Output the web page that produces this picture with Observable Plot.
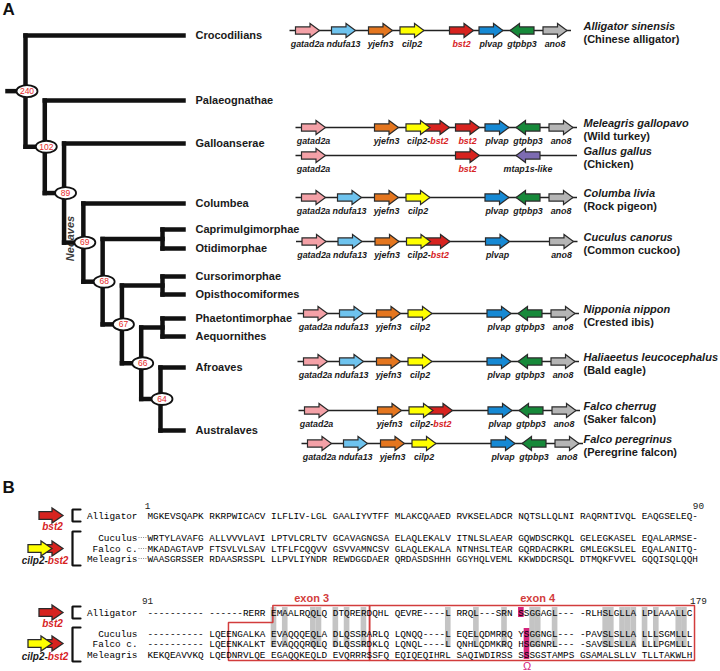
<!DOCTYPE html>
<html><head><meta charset="utf-8">
<script src="https://cdn.jsdelivr.net/npm/d3@7"></script>
<script src="https://cdn.jsdelivr.net/npm/@observablehq/plot@0.6"></script>
<style>body{margin:0;background:#fff}#chart svg{display:block}</style>
</head><body><div id="chart"></div>
<script>
// ================= DATA =================
const clades = ["Crocodilians","Palaeognathae","Galloanserae","Columbea","Caprimulgimorphae","Otidimorphae","Cursorimorphae","Opisthocomiformes","Phaetontimorphae","Aequornithes","Afroaves","Australaves"];
const treeNodes = [
  {id:"n240", age:240, children:["Crocodilians","n102"]},
  {id:"n102", age:102, children:["Palaeognathae","n89"]},
  {id:"n89",  age:89,  children:["Galloanserae","n69"]},
  {id:"n69",  age:69,  children:["Columbea","n68"]},
  {id:"n68",  age:68,  children:["j1","n67"]},
  {id:"j1",   age:null,children:["Caprimulgimorphae","Otidimorphae"]},
  {id:"n67",  age:67,  children:["j2","n66"]},
  {id:"j2",   age:null,children:["Cursorimorphae","Opisthocomiformes"]},
  {id:"n66",  age:66,  children:["j3","n64"]},
  {id:"j3",   age:null,children:["Phaetontimorphae","Aequornithes"]},
  {id:"n64",  age:64,  children:["Afroaves","Australaves"]}
];
const neoavesLabel = "Neoaves";

const genes      = ["gatad2a","ndufa13","yjefn3","cilp2","bst2","plvap","gtpbp3","ano8","mtap1s-like"];
const geneColors = ["#f4a1a7","#6ec3ee","#e4761f","#ffff00","#d7231f","#1689d4","#17893a","#b5b5b5","#7d6bb2"];
const geneStrand = [1,1,1,1,1,1,-1,1,-1];

const species     = ["Alligator sinensis","Meleagris gallopavo","Gallus gallus","Columba livia","Cuculus canorus","Nipponia nippon","Haliaeetus leucocephalus","Falco cherrug","Falco peregrinus"];
const commonNames = ["(Chinese alligator)","(Wild turkey)","(Chicken)","(Rock pigeon)","(Common cuckoo)","(Crested ibis)","(Bald eagle)","(Saker falcon)","(Peregrine falcon)"];
const loci = [
  ["gatad2a","ndufa13","yjefn3","cilp2","bst2","plvap","gtpbp3","ano8"],
  ["gatad2a","yjefn3","cilp2-bst2","bst2","plvap","gtpbp3","ano8"],
  ["gatad2a","bst2","mtap1s-like"],
  ["gatad2a","ndufa13","yjefn3","cilp2","plvap","gtpbp3","ano8"],
  ["gatad2a","ndufa13","yjefn3","cilp2-bst2","plvap","ano8"],
  ["gatad2a","ndufa13","yjefn3","cilp2","plvap","gtpbp3","ano8"],
  ["gatad2a","ndufa13","yjefn3","cilp2","plvap","gtpbp3","ano8"],
  ["gatad2a","yjefn3","cilp2-bst2","plvap","gtpbp3","ano8"],
  ["gatad2a","ndufa13","yjefn3","cilp2","plvap","gtpbp3","ano8"]
];

const alnNames = ["Alligator","Cuculus","Falco c.","Meleagris"];
const alnBlock1 = [
  "MGKEVSQAPK RKRPWICACV ILFLIV-LGL GAALIYVTFF MLAKCQAAED RVKSELADCR NQTSLLQLNI RAQRNTIVQL EAQGSELEQ-",
  "WRTYLAVAFG ALLVVVLAVI LPTVLCRLTV GCAVAGNGSA ELAQLEKALV ITNLSLAEAR GQWDSCRKQL GELEGKASEL EQALARMSE-",
  "MKADAGTAVP FTSVLVLSAV LTFLFCQQVV GSVVAMNCSV GLAQLEKALA NTNHSLTEAR GQRDACRKRL GMLEGKSLEL EQALANITQ-",
  "WAASGRSSER RDAASRSSPL LLPVLIYNDR REWDGGDAER QRDASDSHHH GGYHQLVEML KKWDDCRSQL DTMQKFVVEL GQQISQLQQH"
];
const alnBlock2 = [
  "---------- ------RERR EMAALRQQLQ DTQRERDQHL QEVRE----L RRQL---SRN SSGGAGL--- -RLHSLGLLA LPLAAALLC",
  "---------- LQEENGALKA EVAQQQEQLA DLQSSRARLQ LQNQQ----L EQELQDMRRQ YSGGNGL--- -PAVSLSLLA LLLSGMLLL",
  "---------- LQEENKALKT EVAQQQRQLQ DLQSSRDKLQ LQNQL----L QNHLQDMKRQ HSGGNRL--- -SAVSLSLLA LLLPGMLLL",
  "KEKQEAVVKQ LQEDNRVLQE EGAQQKEQLD EVQRRRSSFQ EQIQEQIHRL SAQIWDIRSS SSSGSTAMPS GSAMALSLLV TLLTAKWLH"
];
const blockNumbers = [["1","90"],["91","179"]];
const shadedCols2 = [22,24,29,30,33,35,38,53,58,63,68,69,72,81,82,84,85,86,88,90,94,95]; // conserved (grey) columns, block 2
const omegaCols = [66,67,67,67];   // omega site per sequence (block 2 column)
const exonLabels = ["exon 3","exon 4"];
const omegaSymbol = "\u03A9";

// ================= LAYOUT =================
const W = 720, H = 671;
const SANS = "'Liberation Sans', Arial, Helvetica, sans-serif";
const MONO = "'Liberation Mono', 'Courier New', monospace";
const leafY = {Crocodilians:35, Palaeognathae:100, Galloanserae:143, Columbea:203, Caprimulgimorphae:229, Otidimorphae:248, Cursorimorphae:276, Opisthocomiformes:294, Phaetontimorphae:318, Aequornithes:336, Afroaves:367, Australaves:430};
const depthX = d3.scaleLinear().domain([0,7]).range([25,160]);
const cherryX = 162, tipX = 183, rootX = 7, cladeLabelX = 195;

const rowY = [30,127,155,197,241,313,361,410,443];
const rowShift = [-6,0,0,0,0.5,2,2,3,6];
const slotX = {"gatad2a":313,"ndufa13":349,"yjefn3":386,"cilp2":417.5,"cilp2-bst2":437,"bst2":467,"plvap":496.5,"gtpbp3":527.5,"mtap1s-like":527.5,"ano8":560.5};
const speciesX = 583;
const geneFont = 8.9;

const seqX0 = 147, charW = 5.622, seqFont = 9.37;
const colX = i => seqX0 + i * charW;
const alnRowY = [[515,537,548,558],[612,633,643,654]];
const numY = [505,600];

// ================= BUILD =================
const geneIdx = g => genes.indexOf(g);
const nodeById = new Map(treeNodes.map(d => [d.id, d]));
const pos = new Map();
function layout(id, depth) {
  if (!nodeById.has(id)) { const p = {id, x: tipX, y: leafY[id], leaf: true}; pos.set(id, p); return p; }
  const n = nodeById.get(id);
  const kids = n.children.map(c => layout(c, depth + 1));
  const p = {id, x: n.age == null ? cherryX : depthX(depth), y: (kids[0].y + kids[kids.length-1].y) / 2,
             top: kids[0].y, bottom: kids[kids.length-1].y, age: n.age, kids};
  pos.set(id, p); return p;
}
const root = layout("n240", 0);
const segs = [{x1: rootX, y1: root.y, x2: root.x, y2: root.y}];
for (const p of pos.values()) {
  if (p.leaf) continue;
  segs.push({x1: p.x, y1: p.top, x2: p.x, y2: p.bottom});
  for (const k of p.kids) segs.push({x1: p.x, y1: k.y, x2: k.x, y2: k.y});
}
const agedNodes = [...pos.values()].filter(p => !p.leaf && p.age != null);
const leaves = clades.map(c => pos.get(c));

// synteny
const arrowsUnder = [], arrowsFwd = [], arrowsRev = [], geneLabels = [], fusedLabels = [], lines = [];
species.forEach((s, i) => {
  const y = rowY[i], sh = rowShift[i];
  lines.push({x1: slotX.gatad2a - 18 + sh, x2: slotX.ano8 + 16 + sh, y});
  for (const g of loci[i]) {
    if (g === "cilp2-bst2") {
      arrowsUnder.push({x: slotX["cilp2-bst2"] + sh, y, fill: geneColors[geneIdx("bst2")]});
      arrowsFwd.push({x: slotX.cilp2 + sh, y, fill: geneColors[geneIdx("cilp2")]});
      fusedLabels.push({x: (slotX.cilp2 + slotX["cilp2-bst2"]) / 2 + sh, y: y + 14});
    } else {
      const d = {x: slotX[g] + sh, y, fill: geneColors[geneIdx(g)]};
      (geneStrand[geneIdx(g)] < 0 ? arrowsRev : arrowsFwd).push(d);
      geneLabels.push({x: slotX[g] + sh, y: y + 14, text: g, fill: g === "bst2" ? "#d7231f" : "#1a1a1a"});
    }
  }
});

// measure text for two-colour labels
const cv = document.createElement("canvas").getContext("2d");
function measure(t, font) { cv.font = font; return cv.measureText(t).width; }
function splitLabel(cx, fontPx) {
  const f = `italic bold ${fontPx}px ${SANS}`;
  const w = measure("cilp2-bst2", f), w1 = measure("cilp2-", f);
  return cx - w / 2 + w1;
}
const fusedA = fusedLabels.map(d => ({...d, split: splitLabel(d.x, geneFont)}));

// alignment
const alnRows = [];
[alnBlock1, alnBlock2].forEach((blk, b) => blk.forEach((seq, r) => alnRows.push({seq, name: alnNames[r], y: alnRowY[b][r]})));
const grey = shadedCols2.map(c => ({x1: colX(c), x2: colX(c + 1), y1: alnRowY[1][0] - 5, y2: alnRowY[1][2] + 4}));
const magenta = [
  {x1: colX(omegaCols[0]), x2: colX(omegaCols[0] + 1), y1: alnRowY[1][0] - 5, y2: alnRowY[1][0] + 5},
  {x1: colX(omegaCols[1]), x2: colX(omegaCols[1] + 1), y1: alnRowY[1][1] - 5, y2: alnRowY[1][3] + 5}
];
const exTop = 605, exBot = 660, exStep = 622;
const exonPoly = [
  ...[[22.3,exTop],[39.5,exTop],[39.5,exBot],[14.4,exBot],[14.4,exStep],[22.3,exStep],[22.3,exTop]].map(([c,y]) => ({id:"e3", x: colX(c), y})),
  ...[[39.5,exTop],[97.3,exTop],[97.3,exBot],[39.5,exBot],[39.5,exTop]].map(([c,y]) => ({id:"e4", x: colX(c), y}))
];
const exonLab = [{t: exonLabels[0], x: colX(29.2)}, {t: exonLabels[1], x: colX(69.4)}];
const leaders = [1,2,3].map(r => ({x1: 138, x2: 146.5, y: alnRowY[0][r]}));
const brackets = [];
alnRowY.forEach((ys, b) => {
  brackets.push(...[[80,ys[0]-6],[72,ys[0]-6],[72,ys[0]+6],[80,ys[0]+6]].map(([x,y]) => ({id:`s${b}`, x, y})));
  brackets.push(...[[80,ys[1]-6],[72,ys[1]-6],[72,ys[3]+7],[80,ys[3]+7]].map(([x,y]) => ({id:`b${b}`, x, y})));
});
const bArrowRed = [], bArrowYel = [], bLabRed = [], bLabFused = [];
alnRowY.forEach(ys => {
  bArrowRed.push({x: 50.5, y: ys[0]}, {x: 50.5, y: ys[2]});
  bArrowYel.push({x: 39.5, y: ys[2]});
  bLabRed.push({x: 52, y: ys[0] + 11});
  bLabFused.push({x: 44.5, y: ys[3] + 2, split: splitLabel(44.5, 10)});
});
const numLabs = [];
blockNumbers.forEach(([a, z], b) => { numLabs.push({t: a, x: colX(0), y: numY[b], anchor: "start"}); numLabs.push({t: z, x: colX(98), y: numY[b], anchor: "end"}); });

// symbols
const ellipseSymbol = {draw(ctx) { const rx = 10.5, ry = 6, k = 0.5523;
  ctx.moveTo(rx, 0); ctx.bezierCurveTo(rx, ry*k, rx*k, ry, 0, ry); ctx.bezierCurveTo(-rx*k, ry, -rx, ry*k, -rx, 0);
  ctx.bezierCurveTo(-rx, -ry*k, -rx*k, -ry, 0, -ry); ctx.bezierCurveTo(rx*k, -ry, rx, -ry*k, rx, 0); ctx.closePath(); }};
function arrowSymbol(len, bh, hh, hl, dir) { return {draw(ctx) { const L = len / 2;
  const p = [[-L,-bh],[L-hl,-bh],[L-hl,-hh],[L,0],[L-hl,hh],[L-hl,bh],[-L,bh]].map(([x,y]) => [x*dir, y]);
  ctx.moveTo(p[0][0], p[0][1]); for (const q of p.slice(1)) ctx.lineTo(q[0], q[1]); ctx.closePath(); }}; }
const arrF = arrowSymbol(24, 3.6, 7, 9.5, 1), arrR = arrowSymbol(24, 3.6, 7, 9.5, -1);
const arrB = arrowSymbol(24, 3.9, 7.6, 11, 1);
const arrowStyle = {r: 5, stroke: "#2a2a2a", strokeWidth: 1.2, fill: "fill"};

const redT = "#d7231f";
const svg = Plot.plot({
  width: W, height: H, margin: 0,
  x: {type: "identity", axis: null}, y: {type: "identity", axis: null},
  color: {type: "identity"},
  style: {fontFamily: SANS, background: "#fff"},
  marks: [
    // panel labels
    Plot.text(["A","B"], {x: 2, y: (d, i) => [9, 487][i], text: d => d, textAnchor: "start", fontSize: 17, fontWeight: "bold", fill: "#111"}),
    // Neoaves
    Plot.text([neoavesLabel], {x: 70, y: 238, text: d => d, rotate: -90, fontSize: 11, fontWeight: "bold", fontStyle: "italic", fill: "#3a3a3a"}),
    // tree
    Plot.link(segs, {x1: "x1", y1: "y1", x2: "x2", y2: "y2", stroke: "#111", strokeWidth: 4.5, strokeLinecap: "square"}),
    Plot.dot(agedNodes, {x: d => d.x + 1.5, y: "y", symbol: ellipseSymbol, r: 5, fill: "#fff", stroke: "#111", strokeWidth: 1.8}),
    Plot.text(agedNodes, {x: d => d.x + 1.5, y: "y", text: d => String(d.age), fontSize: 8.5, fill: "#e52a2a"}),
    Plot.text(leaves, {x: cladeLabelX, y: "y", text: "id", textAnchor: "start", fontSize: 11, fontWeight: "bold", fill: "#1a1a1a"}),
    // synteny
    Plot.link(lines, {x1: "x1", x2: "x2", y1: "y", y2: "y", stroke: "#222", strokeWidth: 1.4}),
    Plot.dot(arrowsUnder, {x: "x", y: "y", symbol: arrF, ...arrowStyle}),
    Plot.dot(arrowsFwd, {x: "x", y: "y", symbol: arrF, ...arrowStyle}),
    Plot.dot(arrowsRev, {x: "x", y: "y", symbol: arrR, ...arrowStyle}),
    Plot.text(geneLabels, {x: "x", y: "y", text: "text", fill: "fill", fontSize: geneFont, fontWeight: "bold", fontStyle: "italic"}),
    Plot.text(fusedA, {x: "split", y: "y", text: () => "cilp2-", textAnchor: "end", fill: "#1a1a1a", fontSize: geneFont, fontWeight: "bold", fontStyle: "italic"}),
    Plot.text(fusedA, {x: "split", y: "y", text: () => "bst2", textAnchor: "start", fill: redT, fontSize: geneFont, fontWeight: "bold", fontStyle: "italic"}),
    Plot.text(species, {x: speciesX, y: (d, i) => rowY[i] - 4, text: d => d, textAnchor: "start", fontSize: 11, fontWeight: "bold", fontStyle: "italic", fill: "#1a1a1a"}),
    Plot.text(commonNames, {x: speciesX, y: (d, i) => rowY[i] + 9, text: d => d, textAnchor: "start", fontSize: 11, fontWeight: "bold", fill: "#1a1a1a"}),
    // alignment
    Plot.rect(grey, {x1: "x1", x2: "x2", y1: "y1", y2: "y2", fill: "#c4c4c4"}),
    Plot.rect(magenta, {x1: "x1", x2: "x2", y1: "y1", y2: "y2", fill: "#d4237a"}),
    Plot.line(exonPoly, {x: "x", y: "y", z: "id", stroke: "#d23c3c", strokeWidth: 1.5, strokeLinejoin: "miter"}),
    Plot.text(alnRows, {x: seqX0, y: "y", text: "seq", textAnchor: "start", fontFamily: MONO, fontSize: seqFont, fill: "#000"}),
    Plot.text(alnRows, {x: 137, y: "y", text: "name", textAnchor: "end", fontFamily: MONO, fontSize: seqFont, fill: "#000"}),
    Plot.link(leaders, {x1: "x1", x2: "x2", y1: "y", y2: "y", stroke: "#888", strokeWidth: 1, strokeDasharray: "1 1.3"}),
    Plot.line(brackets, {x: "x", y: "y", z: "id", stroke: "#111", strokeWidth: 2.2, strokeLinejoin: "miter"}),
    Plot.dot(bArrowRed, {x: "x", y: "y", symbol: arrB, r: 5, fill: geneColors[geneIdx("bst2")], stroke: "#2a2a2a", strokeWidth: 1.3}),
    Plot.dot(bArrowYel, {x: "x", y: "y", symbol: arrB, r: 5, fill: geneColors[geneIdx("cilp2")], stroke: "#2a2a2a", strokeWidth: 1.3}),
    Plot.text(bLabRed, {x: "x", y: "y", text: () => "bst2", fill: redT, fontSize: 10, fontWeight: "bold", fontStyle: "italic"}),
    Plot.text(bLabFused, {x: "split", y: "y", text: () => "cilp2-", textAnchor: "end", fill: "#1a1a1a", fontSize: 10, fontWeight: "bold", fontStyle: "italic"}),
    Plot.text(bLabFused, {x: "split", y: "y", text: () => "bst2", textAnchor: "start", fill: redT, fontSize: 10, fontWeight: "bold", fontStyle: "italic"}),
    Plot.text(numLabs, {x: "x", y: "y", text: "t", textAnchor: "anchor", fontFamily: MONO, fontSize: seqFont, fill: "#222"}),
    Plot.text(exonLab, {x: "x", y: 598, text: "t", fill: "#d23c3c", fontSize: 11, fontWeight: "bold"}),
    Plot.text([omegaSymbol], {x: colX(omegaCols[1] + 0.5), y: 666, text: d => d, fill: "#d4237a", fontSize: 11})
  ]
});
document.getElementById("chart").appendChild(svg);
</script>
</body></html>
